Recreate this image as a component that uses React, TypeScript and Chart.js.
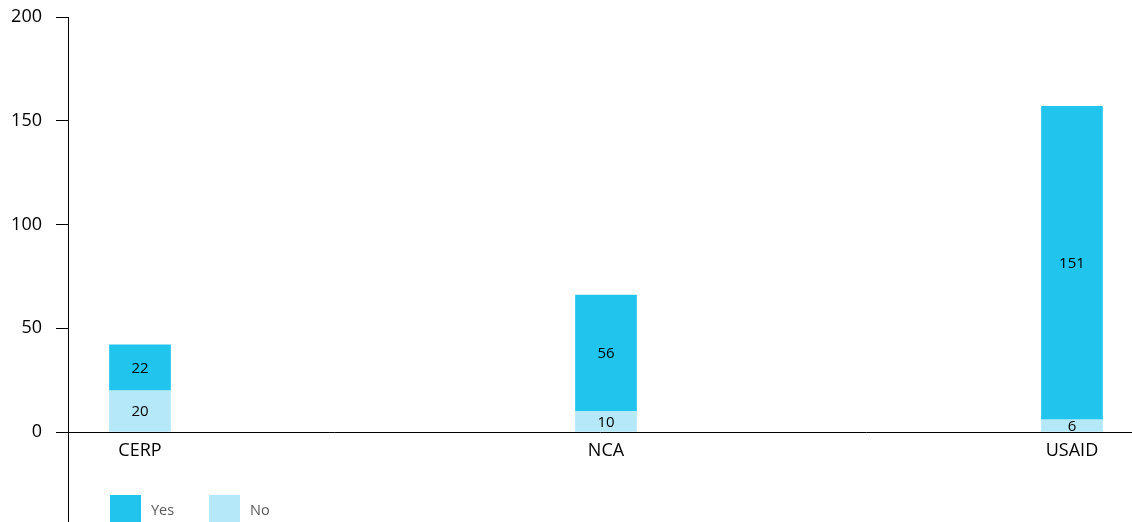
import React, { useEffect, useRef } from 'react';
import { Chart, registerables } from 'chart.js';

Chart.register(...registerables);

const categories = ['CERP', 'NCA', 'USAID'];
const noValues = [20, 10, 6];
const yesValues = [22, 56, 151];
const yTickValues = [0, 50, 100, 150, 200];
const legendItems = ['Yes', 'No'];

const YES_COLOR = '#21C4EC';
const NO_COLOR = '#B5E8F8';
const FONT = "'Open Sans', sans-serif";

const segmentLabels = {
  id: 'segmentLabels',
  afterDatasetsDraw(chart: any) {
    const ctx = chart.ctx;
    ctx.save();
    ctx.font = `15px ${FONT}`;
    ctx.fillStyle = '#000';
    ctx.textAlign = 'center';
    ctx.textBaseline = 'middle';
    chart.data.datasets.forEach((ds: any, di: number) => {
      const meta = chart.getDatasetMeta(di);
      meta.data.forEach((el: any, i: number) => {
        const { x, y, base } = el.getProps(['x', 'y', 'base'], true);
        ctx.fillText(String(ds.data[i].y), x, (y + base) / 2 + 1);
      });
    });
    ctx.restore();
  },
};

const customLegend = {
  id: 'customLegend',
  afterDraw(chart: any) {
    const ctx = chart.ctx;
    ctx.save();
    const colors: Record<string, string> = { Yes: YES_COLOR, No: NO_COLOR };
    const startX = [110, 209];
    legendItems.forEach((name, i) => {
      const x = startX[i];
      ctx.fillStyle = colors[name];
      ctx.fillRect(x, 495, 31, 27);
      ctx.fillStyle = '#595959';
      ctx.font = `14.5px ${FONT}`;
      ctx.textAlign = 'left';
      ctx.textBaseline = 'middle';
      ctx.fillText(name, x + 41, 511);
    });
    ctx.restore();
  },
};

export default function App() {
  const ref = useRef<HTMLCanvasElement | null>(null);

  useEffect(() => {
    document.body.style.margin = '0';
    if (!ref.current) return;
    const chart = new Chart(ref.current, {
      type: 'bar',
      data: {
        datasets: [
          {
            label: 'No',
            data: categories.map((_, i) => ({ x: i, y: noValues[i] })),
            backgroundColor: NO_COLOR,
            barThickness: 61,
          },
          {
            label: 'Yes',
            data: categories.map((_, i) => ({ x: i, y: yesValues[i] })),
            backgroundColor: YES_COLOR,
            barThickness: 61,
          },
        ],
      },
      options: {
        responsive: false,
        animation: false,
        devicePixelRatio: 1,
        layout: { padding: { top: 17, right: 0, bottom: 0, left: 0 } },
        plugins: {
          legend: { display: false },
          tooltip: { enabled: false },
        },
        scales: {
          x: {
            type: 'linear',
            stacked: true,
            offset: false,
            min: -0.1545,
            max: 2.1288,
            position: { y: 0 } as any,
            grid: { display: false, drawTicks: false, offset: false },
            border: { display: true, color: '#000', width: 1 },
            afterBuildTicks: (s: any) => {
              s.ticks = categories.map((_, i) => ({ value: i }));
            },
            ticks: {
              autoSkip: false,
              maxRotation: 0,
              padding: 8,
              color: '#000',
              font: { family: FONT, size: 18 },
              callback: (v: any) => categories[v as number] ?? '',
            },
          },
          y: {
            type: 'linear',
            stacked: true,
            min: -43.37,
            max: 200,
            afterBuildTicks: (s: any) => {
              s.ticks = yTickValues.map((v) => ({ value: v }));
            },
            grid: { drawOnChartArea: false, drawTicks: true, tickLength: 12, color: '#000', lineWidth: 1 },
            border: { color: '#000', width: 1 },
            ticks: { padding: 14, color: '#000', font: { family: FONT, size: 18 } },
            afterFit: (s: any) => {
              s.width = 68;
              s.paddingTop = 0;
              s.paddingBottom = 0;
            },
          },
        },
      } as any,
      plugins: [segmentLabels, customLegend],
    });
    return () => chart.destroy();
  }, []);

  return <canvas ref={ref} width={1132} height={522} style={{ display: 'block' }} />;
}
